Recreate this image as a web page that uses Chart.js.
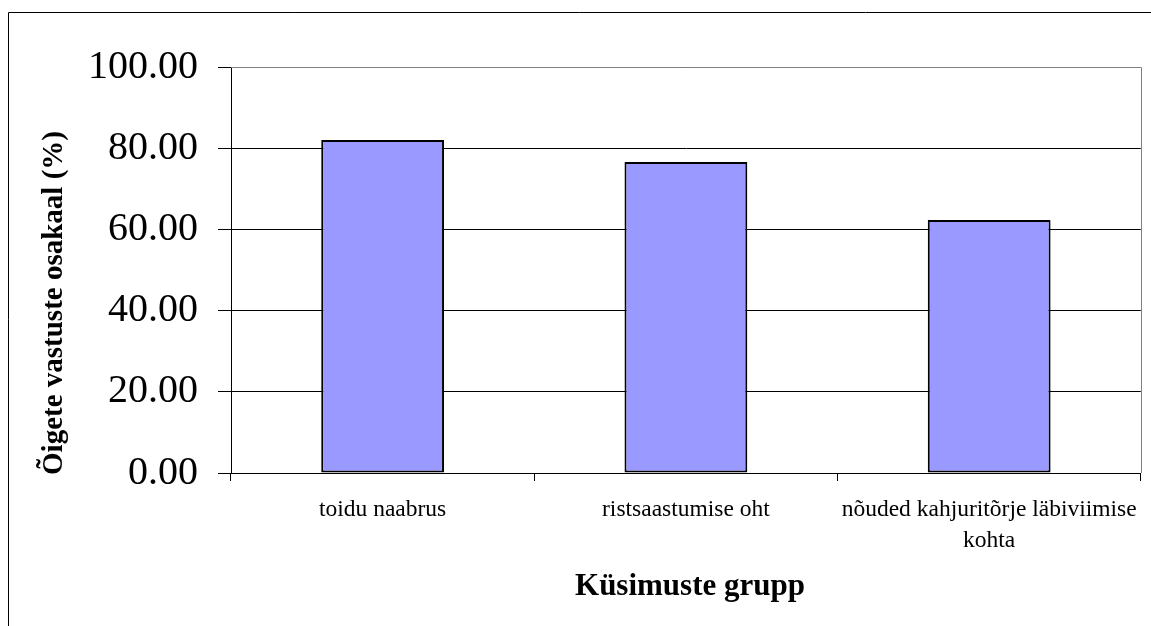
<!DOCTYPE html>
<html>
<head>
<meta charset="utf-8">
<script src="https://cdn.jsdelivr.net/npm/chart.js@4.4.0/dist/chart.umd.min.js"></script>
<style>
  html, body { margin: 0; padding: 0; background: #fff; }
  #wrap { width: 1151px; height: 626px; position: relative; }
  canvas { display: block; }
</style>
</head>
<body>
<div id="wrap"><canvas id="c" width="1151" height="626"></canvas></div>
<script>
// Question groups and the share of correct answers per group (%)
const categories = ['toidu naabrus', 'ristsaastumise oht', ['nõuded kahjuritõrje läbiviimise', 'kohta']];
const shares = [82.05, 76.6, 62.3];
const yTickValues = [0, 20, 40, 60, 80, 100];
const yTitle = 'Õigete vastuste osakaal (%)';
const xTitle = 'Küsimuste grupp';

const SERIF = '"Liberation Serif", "Times New Roman", serif';

// Outer frame, grey plot border and the two axis titles
const decorations = {
  id: 'decorations',
  beforeDraw(chart) {
    const ctx = chart.ctx;
    ctx.save();
    ctx.fillStyle = '#ffffff';
    ctx.fillRect(0, 0, chart.width, chart.height);
    ctx.strokeStyle = '#000000';
    ctx.lineWidth = 1;
    ctx.beginPath();
    ctx.moveTo(8.5, chart.height);
    ctx.lineTo(8.5, 12.5);
    ctx.lineTo(chart.width, 12.5);
    ctx.stroke();
    ctx.restore();
  },
  afterDraw(chart) {
    const ctx = chart.ctx;
    const a = chart.chartArea;
    ctx.save();
    ctx.strokeStyle = '#808080';
    ctx.lineWidth = 1;
    ctx.beginPath();
    ctx.moveTo(a.left, Math.round(a.top) + 0.5);
    ctx.lineTo(Math.round(a.right) + 0.5, Math.round(a.top) + 0.5);
    ctx.lineTo(Math.round(a.right) + 0.5, a.bottom);
    ctx.stroke();

    ctx.fillStyle = '#000000';
    ctx.font = 'bold 31px ' + SERIF;
    ctx.textAlign = 'center';
    ctx.textBaseline = 'alphabetic';
    ctx.fillText(xTitle, 690, 595);

    ctx.translate(62, 303);
    ctx.rotate(-Math.PI / 2);
    ctx.font = 'bold 29px ' + SERIF;
    ctx.textAlign = 'center';
    ctx.textBaseline = 'alphabetic';
    ctx.fillText(yTitle, 0, 0);
    ctx.restore();
  }
};

new Chart(document.getElementById('c'), {
  type: 'bar',
  data: {
    labels: categories,
    datasets: [{
      data: shares,
      backgroundColor: '#9999ff',
      borderColor: '#000000',
      borderWidth: 2,
      borderSkipped: false,
      categoryPercentage: 1,
      barPercentage: 0.405
    }]
  },
  options: {
    responsive: false,
    devicePixelRatio: 1,
    animation: false,
    layout: { padding: { left: 8, top: 67, right: 8, bottom: 0 } },
    plugins: {
      legend: { display: false },
      tooltip: { enabled: false }
    },
    scales: {
      x: {
        offset: true,
        grid: {
          display: true,
          offset: true,
          drawOnChartArea: false,
          drawTicks: true,
          tickLength: 8,
          color: '#000000',
          tickColor: '#000000'
        },
        border: { display: true, color: '#000000', width: 1 },
        ticks: {
          color: '#000000',
          padding: 13,
          maxRotation: 0,
          autoSkip: false,
          font: { family: SERIF, size: 23.5, lineHeight: 1.32 }
        },
        afterFit(scale) { scale.height = 626 - 473; }
      },
      y: {
        min: 0,
        max: 100,
        afterBuildTicks(scale) { scale.ticks = yTickValues.map(v => ({ value: v })); },
        grid: {
          color: '#000000',
          tickColor: '#000000',
          tickLength: 13,
          drawTicks: true
        },
        border: { display: true, color: '#000000', width: 1 },
        ticks: {
          color: '#000000',
          padding: 20,
          font: { family: SERIF, size: 40 },
          callback: v => Number(v).toFixed(2)
        },
        afterFit(scale) { scale.width = 231 - 8; }
      }
    }
  },
  plugins: [decorations]
});
</script>
</body>
</html>
